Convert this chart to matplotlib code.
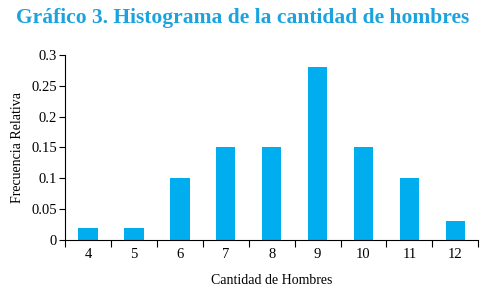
import numpy as np
import matplotlib.pyplot as plt
from matplotlib.ticker import FixedLocator, NullFormatter

plt.rcParams['font.family'] = 'serif'
plt.rcParams['font.serif'] = ['Liberation Serif', 'DejaVu Serif']

# data
hombres = [4, 5, 6, 7, 8, 9, 10, 11, 12]
frecuencia = [0.02, 0.02, 0.10, 0.15, 0.15, 0.28, 0.15, 0.10, 0.03]
yticks = [0, 0.05, 0.1, 0.15, 0.2, 0.25, 0.3]
ytick_labels = ['0', '0.05', '0.1', '0.15', '0.2', '0.25', '0.3']

fig = plt.figure(figsize=(4.86, 2.94), dpi=100)
ax = fig.add_axes([0.134, 0.184, 0.850, 0.629])

x = np.arange(len(hombres))
ax.bar(x, frecuencia, width=0.42, color='#00AEEF')

ax.set_xlim(-0.5, len(hombres) - 0.5)
ax.set_ylim(0, 0.3)
ax.set_xticks(x)
ax.set_xticklabels([str(h) for h in hombres], fontsize=10.5)
ax.xaxis.set_minor_locator(FixedLocator(np.arange(-0.5, len(hombres), 1.0)))
ax.xaxis.set_minor_formatter(NullFormatter())
ax.tick_params(axis='x', which='major', length=0, pad=6)
ax.tick_params(axis='x', which='minor', length=5, width=0.8, direction='out')
ax.set_yticks(yticks)
ax.set_yticklabels(ytick_labels, fontsize=10.5)
ax.tick_params(axis='y', length=4, width=0.8, direction='out', pad=2)

for s in ['top', 'right']:
    ax.spines[s].set_visible(False)
for s in ['left', 'bottom']:
    ax.spines[s].set_linewidth(0.8)

ax.set_xlabel('Cantidad de Hombres', fontsize=10, labelpad=9)
ax.set_ylabel('Frecuencia Relativa', fontsize=10, labelpad=5)

fig.text(0.5, 0.938, 'Gráfico 3. Histograma de la cantidad de hombres',
         ha='center', va='center', fontsize=15.5, fontweight='bold', color='#1BA3E0')

fig.savefig('out.png', dpi=100, facecolor='white')
